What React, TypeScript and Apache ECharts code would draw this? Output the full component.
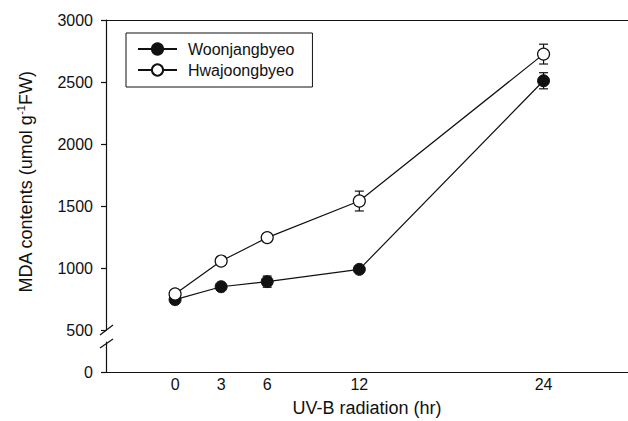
import React, { useEffect, useRef } from "react";
import * as echarts from "echarts";

const xValues = [0, 3, 6, 12, 24];
const woonMean = [745, 849, 890, 989, 2510];
const woonErr = [15, 20, 45, 25, 65];
const hwaMean = [790, 1056, 1245, 1540, 2725];
const hwaErr = [15, 20, 20, 80, 80];
const xTickLabels = [0, 3, 6, 12, 24];
const seriesNames = ["Woonjangbyeo", "Hwajoongbyeo"];

const FONT = "'Liberation Sans', Arial, sans-serif";
const INK = "#111";

function errData(mean: number[], err: number[]) {
  return xValues.map((x, i) => [x, mean[i] - err[i], mean[i] + err[i]]);
}

function renderErr(params: any, api: any) {
  const x = api.value(0);
  const lo = api.coord([x, api.value(1)]);
  const hi = api.coord([x, api.value(2)]);
  const cap = 4.5;
  const style = { stroke: INK, lineWidth: 1.2 };
  return {
    type: "group",
    children: [
      { type: "line", shape: { x1: lo[0], y1: lo[1], x2: hi[0], y2: hi[1] }, style },
      { type: "line", shape: { x1: lo[0] - cap, y1: lo[1], x2: lo[0] + cap, y2: lo[1] }, style },
      { type: "line", shape: { x1: hi[0] - cap, y1: hi[1], x2: hi[0] + cap, y2: hi[1] }, style },
    ],
  };
}

export default function App() {
  const ref = useRef<HTMLDivElement>(null);
  useEffect(() => {
    if (!ref.current) return;
    const chart = echarts.init(ref.current, undefined, { renderer: "svg" });
    const xMin = -4.5;
    const xMax = 29.5;
    const axisLine = { show: true, onZero: false, lineStyle: { color: INK, width: 1.2 } };
    chart.setOption({
      animation: false,
      backgroundColor: "#fff",
      grid: [
        { left: 106, right: 0, top: 20, bottom: 91 },
        { left: 106, right: 0, top: 342, bottom: 49 },
      ],
      legend: {
        data: seriesNames,
        orient: "vertical",
        left: 126,
        top: 33,
        padding: [8, 18, 9, 11],
        itemGap: 5,
        itemWidth: 39,
        itemHeight: 14,
        borderColor: INK,
        borderWidth: 1,
        textStyle: { fontFamily: FONT, fontSize: 16, color: INK, padding: [0, 0, 0, 6] },
      },
      xAxis: [
        {
          type: "value",
          gridIndex: 0,
          position: "top",
          min: xMin,
          max: xMax,
          axisLine,
          axisTick: { show: false },
          axisLabel: { show: false },
          splitLine: { show: false },
        },
        {
          type: "value",
          gridIndex: 1,
          position: "bottom",
          min: xMin,
          max: xMax,
          axisLine,
          axisTick: { show: false },
          axisLabel: {
            customValues: xTickLabels,
            margin: 4,
            fontFamily: FONT,
            fontSize: 16,
            color: INK,
          },
          splitLine: { show: false },
          name: "UV-B radiation (hr)",
          nameLocation: "middle",
          nameGap: 27,
          nameTextStyle: { fontFamily: FONT, fontSize: 18, color: INK },
        },
      ],
      yAxis: [
        {
          type: "value",
          gridIndex: 0,
          min: 500,
          max: 3000,
          interval: 500,
          axisLine,
          axisTick: { show: true, inside: false, length: 5, lineStyle: { color: INK, width: 1.2 } },
          axisLabel: {
            margin: 13,
            fontFamily: FONT,
            fontSize: 16,
            color: INK,
            formatter: (v: number) => String(v),
          },
          splitLine: { show: false },
        },
        {
          type: "value",
          gridIndex: 1,
          min: 0,
          max: 100,
          axisLine,
          axisTick: { show: true, length: 5, customValues: [0], lineStyle: { color: INK, width: 1.2 } },
          axisLabel: {
            customValues: [0],
            margin: 13,
            fontFamily: FONT,
            fontSize: 16,
            color: INK,
            formatter: (v: number) => String(v),
          },
          splitLine: { show: false },
        },
      ],
      graphic: [
        {
          type: "line",
          shape: { x1: 100, y1: 335, x2: 113, y2: 325 },
          style: { stroke: INK, lineWidth: 1.2 },
        },
        {
          type: "line",
          shape: { x1: 100, y1: 348, x2: 113, y2: 339 },
          style: { stroke: INK, lineWidth: 1.2 },
        },
        {
          type: "text",
          x: 26,
          y: 182,
          rotation: Math.PI / 2,
          style: {
            text: "MDA contents (umol g{sup|-1}FW)",
            fontFamily: FONT,
            fontSize: 18,
            fill: INK,
            align: "center",
            verticalAlign: "middle",
            rich: {
              sup: { fontSize: 11, fontFamily: FONT, fill: INK, padding: [0, 0, 10, 0] },
            },
          },
        },
      ],
      series: [
        {
          type: "custom",
          name: "woonErr",
          xAxisIndex: 0,
          yAxisIndex: 0,
          z: 1,
          renderItem: renderErr,
          data: errData(woonMean, woonErr),
        },
        {
          type: "custom",
          name: "hwaErr",
          xAxisIndex: 0,
          yAxisIndex: 0,
          z: 1,
          renderItem: renderErr,
          data: errData(hwaMean, hwaErr),
        },
        {
          type: "line",
          name: seriesNames[0],
          xAxisIndex: 0,
          yAxisIndex: 0,
          z: 3,
          data: xValues.map((x, i) => [x, woonMean[i]]),
          symbol: "circle",
          symbolSize: 12,
          lineStyle: { color: INK, width: 1.2 },
          itemStyle: { color: INK, borderColor: INK, borderWidth: 1 },
        },
        {
          type: "line",
          name: seriesNames[1],
          xAxisIndex: 0,
          yAxisIndex: 0,
          z: 4,
          data: xValues.map((x, i) => [x, hwaMean[i]]),
          symbol: "circle",
          symbolSize: 12,
          lineStyle: { color: INK, width: 1.2 },
          itemStyle: { color: "#fff", borderColor: INK, borderWidth: 1.2 },
        },
      ],
    });
    return () => chart.dispose();
  }, []);
  return (
    <div
      ref={ref}
      style={{ position: "fixed", left: 0, top: 0, width: 628, height: 421, background: "#fff" }}
    />
  );
}
